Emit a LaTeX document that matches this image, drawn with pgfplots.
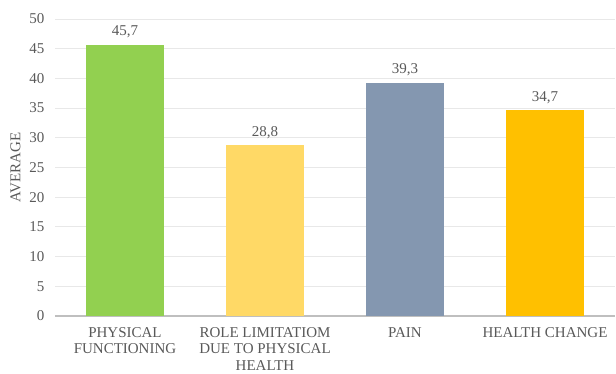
\documentclass[border=0pt]{standalone}
\usepackage{pgfplots}
\pgfplotsset{compat=1.18}
\usepackage{fontspec}
\setmainfont{Liberation Serif}
\definecolor{cgreen}{HTML}{92D050}
\definecolor{cyellow}{HTML}{FFD966}
\definecolor{cblue}{HTML}{8497B0}
\definecolor{corange}{HTML}{FFC000}
\definecolor{txt}{HTML}{595959}
\definecolor{gridc}{HTML}{E8E8E8}
\definecolor{basec}{HTML}{BFBFBF}
\begin{document}
\begin{tikzpicture}
\begin{axis}[
  scale only axis, width=560pt, height=297pt,
  xmin=-0.5, xmax=3.5, ymin=0, ymax=50,
  ytick={5,10,...,50},
  extra y ticks={0},
  extra y tick style={grid style={draw=basec, line width=1.5pt}},
  xtick={0,1,2,3},
  xticklabels={{PHYSICAL\\FUNCTIONING},{ROLE LIMITATIOM\\DUE TO PHYSICAL\\HEALTH},{PAIN},{HEALTH CHANGE}},
  ymajorgrids, grid style={draw=gridc, line width=0.8pt},
  axis line style={draw=none},
  major tick length=0pt,
  tick label style={font=\fontsize{15}{16.5}\selectfont, text=txt},
  xticklabel style={align=center, anchor=north, yshift=-8pt},
  yticklabel style={anchor=east, xshift=-7pt},
  ylabel={AVERAGE},
  ylabel style={font=\fontsize{15}{16.5}\selectfont, text=txt, yshift=2pt},
  /pgf/number format/assume math mode=true,
  ybar, bar width=78pt, bar shift=0pt,
  nodes near coords,
  point meta=y,
  nodes near coords style={font=\fontsize{15}{16.5}\selectfont, text=txt, yshift=3pt, /pgf/number format/.cd, fixed, precision=1, fixed zerofill, use comma},
  every axis plot/.append style={draw=none},
]
\addplot[fill=cgreen] coordinates {(0,45.7)};
\addplot[fill=cyellow] coordinates {(1,28.8)};
\addplot[fill=cblue] coordinates {(2,39.3)};
\addplot[fill=corange] coordinates {(3,34.7)};
\end{axis}
\path[use as bounding box] ([xshift=-55pt,yshift=-57pt]current axis.south west) rectangle ([xshift=1pt,yshift=19pt]current axis.north east);
\end{tikzpicture}
\end{document}
